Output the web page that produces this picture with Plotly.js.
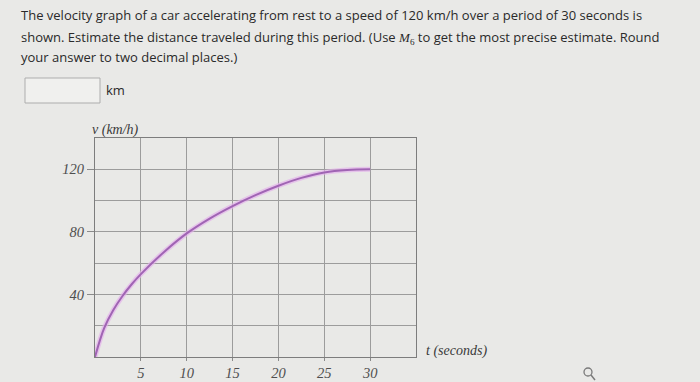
<!DOCTYPE html>
<html>
<head>
<meta charset="utf-8">
<script src="https://cdn.plot.ly/plotly-3.0.1.min.js"></script>
<style>
html,body{margin:0;padding:0;background:#e9e9e7;}
#chart{width:700px;height:382px;}
</style>
</head>
<body>
<div id="chart"></div>
<script>
// Data
const timeSeconds = [0, 0.5, 1, 2, 3, 4, 5, 7.5, 10, 12.5, 15, 17.5, 20, 22.5, 25, 27.5, 30];
const velocityKmh = [0, 10, 18.5, 30, 39, 46.5, 53, 67, 79, 88.5, 96.5, 103.5, 109.5, 114.5, 118, 119.6, 120];
const xTickVals = [5, 10, 15, 20, 25, 30];
const xTickText = ['5', '10', '15', '20', '25', '30'];
const yTickVals = [40, 80, 120];
const yTickText = ['40', '80', '120'];
const yMinorGrid = [20, 60, 100];

const questionLines = [
  'The velocity graph of a car accelerating from rest to a speed of 120 km/h over a period of 30 seconds is',
  'shown. Estimate the distance traveled during this period. (Use <span style="font-family:Liberation Serif"><i>M</i><sub>6</sub></span> to get the most precise estimate. Round',
  'your answer to two decimal places.)'
];

// plot area in pixels: left 95, right 416, top 138, bottom 357
const L = 95, R = 416, T = 138, B = 357;
const px = x => (x - L) / (R - L);
const py = y => (B - y) / (B - T);

const serifItalic = {family: 'Liberation Serif, serif', size: 14.5, color: '#4f4f4f', style: 'italic'};
const labelFont = {family: 'Liberation Serif, serif', size: 14, color: '#3a3a3a', style: 'italic'};
const textFont = {family: 'Open Sans, sans-serif', size: 13, color: '#2a2a2a'};

const traces = [
  {x: timeSeconds, y: velocityKmh, mode: 'lines', line: {shape: 'spline', smoothing: 1, color: 'rgba(228,175,235,0.65)', width: 5}, hoverinfo: 'skip', showlegend: false},
  {x: timeSeconds, y: velocityKmh, mode: 'lines', line: {shape: 'spline', smoothing: 1, color: '#a064b4', width: 2}, showlegend: false}
];

const annotations = questionLines.map((t, i) => ({
  xref: 'paper', yref: 'paper', x: px(19), y: py([15, 37, 57][i]),
  xanchor: 'left', yanchor: 'middle', showarrow: false, text: t, font: textFont
}));
annotations.push(
  {xref: 'paper', yref: 'paper', x: px(104), y: py(90), xanchor: 'left', yanchor: 'middle', showarrow: false, text: 'km', font: textFont},
  {xref: 'paper', yref: 'paper', x: px(115), y: py(130), xanchor: 'center', yanchor: 'middle', showarrow: false, text: 'v (km/h)', font: labelFont},
  {xref: 'paper', yref: 'paper', x: px(424), y: py(351), xanchor: 'left', yanchor: 'middle', showarrow: false, text: 't (seconds)', font: labelFont}
);

const shapes = [
  {type: 'rect', xref: 'paper', yref: 'paper', x0: px(25), x1: px(100), y0: py(78), y1: py(103), line: {color: '#adadad', width: 1}, fillcolor: '#f0f0ee'},
  {type: 'circle', xref: 'paper', yref: 'paper', x0: px(584), x1: px(592), y0: py(368), y1: py(376), line: {color: '#7a7a7a', width: 1.3}},
  {type: 'line', xref: 'paper', yref: 'paper', x0: px(591), x1: px(595), y0: py(375), y1: py(380), line: {color: '#7a7a7a', width: 1.5}}
];

const layout = {
  width: 700, height: 382,
  margin: {l: L, r: 700 - R, t: T, b: 382 - B, pad: 0},
  paper_bgcolor: '#e9e9e7', plot_bgcolor: '#e9e9e7',
  showlegend: false,
  xaxis: {
    range: [0, 35], tickmode: 'array', tickvals: xTickVals, ticktext: xTickText,
    showgrid: true, gridcolor: '#9c9c9c', gridwidth: 1,
    showline: true, linecolor: '#7d7d7d', linewidth: 1, mirror: true,
    ticks: 'outside', ticklen: 3, tickcolor: '#8a8a8a',
    tickfont: serifItalic, zeroline: false, fixedrange: true
  },
  yaxis: {
    range: [0, 140], tickmode: 'array', tickvals: yTickVals, ticktext: yTickText,
    showgrid: true, gridcolor: '#9c9c9c', gridwidth: 1,
    minor: {tickmode: 'array', tickvals: yMinorGrid, showgrid: true, gridcolor: '#9c9c9c', gridwidth: 1, ticks: ''},
    showline: true, linecolor: '#7d7d7d', linewidth: 1, mirror: true,
    ticks: 'outside', ticklen: 7, tickcolor: '#8a8a8a',
    tickfont: serifItalic, zeroline: false, fixedrange: true
  },
  annotations: annotations,
  shapes: shapes
};

Plotly.newPlot('chart', traces, layout, {displayModeBar: false, staticPlot: true});
</script>
</body>
</html>
